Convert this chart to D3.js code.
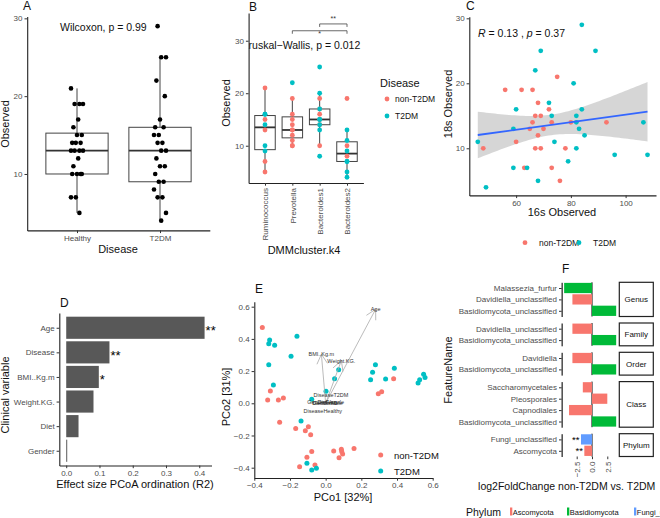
<!DOCTYPE html>
<html>
<head>
<meta charset="utf-8">
<script src="https://cdnjs.cloudflare.com/ajax/libs/d3/7.8.5/d3.min.js"></script>
<style>
body { margin: 0; background: #fff; }
svg { display: block; }
</style>
</head>
<body>
<svg id="fig" width="660" height="518"></svg>
<script>
// ---- A: observed richness by disease ----
var diseaseGroups = ["Healthy", "T2DM"];
var healthyObs = [21, 19, 19, 19, 17, 16, 15, 15, 14, 14, 14, 13, 13, 13, 13, 12, 11, 10, 10, 10, 10, 7, 7, 5];
var t2dmObs = [29, 25, 25, 22, 20, 17, 16, 16, 15, 15, 14, 14, 13, 13, 12, 11, 11, 10, 9, 9, 8, 7, 7, 5, 4];

// ---- B: observed richness by DMM cluster ----
var dmmClusters = ["Ruminococcus", "Prevotella", "Bacteroides1", "Bacteroides2"];
var dmmNonT2dm = [[21, 15, 13, 7, 5], [19, 16, 15, 14, 13, 13, 12, 11, 10, 10], [19, 17, 16, 15, 14, 10], [19, 10, 8]];
var dmmT2dm = [[16, 16, 14, 10, 9], [22], [25, 20, 17, 15, 15, 14, 13, 8], [13, 11, 9, 7, 7, 5, 4]];
var dmmTests = [["Prevotella", "Bacteroides2", "*"], ["Bacteroides1", "Bacteroides2", "**"]];

// ---- C: 16s vs 18s observed ----
var c16sNon = [75, 56, 62, 66, 68, 72, 67, 69, 66, 65, 73, 70, 68, 48, 60, 67, 69, 63, 73, 76, 80, 93, 78];
var c18sNon = [21, 19, 19, 19, 17, 16, 15, 15, 14, 13, 14, 13, 12, 10, 11, 10, 10, 7, 7, 5, 14, 14, 10];
var c16sT2 = [69, 67, 72, 60, 73, 59, 46, 74, 59, 64, 68, 49, 84, 89, 81, 84, 82, 82, 106.5, 83, 85, 82, 96, 108, 79];
var c18sT2 = [25, 22, 17, 16, 15, 13, 11, 11, 7, 7, 5, 4, 29, 25, 20, 16, 15, 14, 14, 13, 12, 10, 9, 9, 8];

// ---- D: effect sizes ----
var clinVars = ["Age", "Disease", "BMI..Kg.m", "Weight.KG.", "Diet", "Gender"];
var clinR2 = [0.416, 0.130, 0.098, 0.082, 0.037, 0.003];
var clinSig = ["**", "**", "*", "", "", ""];

// ---- E: PCoA ----
var pcoNonX = [-0.355, -0.31, -0.325, -0.265, -0.237, -0.258, -0.168, -0.114, -0.097, -0.084, -0.078, 0.045, 0.088, 0.09, 0.095, 0.075, 0.159, -0.105, -0.146, -0.06, 0.295, 0.314, 0.381];
var pcoNonY = [0.47, 0.076, 0.02, 0.02, 0.033, -0.118, -0.157, -0.17, -0.145, -0.195, -0.30, -0.296, -0.286, -0.30, -0.315, -0.338, -0.28, -0.335, -0.394, -0.383, 0.06, 0.072, 0.153];
var pcoT2X = [-0.314, -0.319, -0.286, -0.161, -0.194, -0.319, -0.293, -0.078, 0.002, 0.05, 0.073, -0.138, -0.105, -0.078, -0.052, 0.279, 0.263, 0.252, 0.336, 0.385, 0.518, 0.527, 0.549, 0.557];
var pcoT2Y = [0.393, 0.37, 0.36, 0.416, 0.292, 0.24, 0.114, 0.025, 0.075, 0.153, 0.209, -0.11, -0.373, -0.414, -0.404, 0.24, 0.193, 0.147, 0.151, 0.217, 0.126, 0.147, 0.18, 0.16];
var vecNames = ["Age", "BMI..Kg.m", "Weight.KG."];
var vecX = [0.28, -0.024, 0.088];
var vecY = [0.584, 0.305, 0.265];
var factorNames = ["DiseaseT2DM", "GenderFemale", "GenderMale", "DietMixed", "DietVeg", "DiseaseHealthy"];
var factorX = [0.03, 0.0, 0.012, -0.006, 0.008, -0.016];
var factorY = [0.05, 0.006, 0.0, 0.003, 0.008, -0.046];

// ---- F: differential abundance ----
var taxLevels = ["Genus", "Family", "Order", "Class", "Phylum"];
var featName = ["Malassezia_furfur", "Davidiella_unclassified", "Basidiomycota_unclassified",
  "Davidiella_unclassified", "Basidiomycota_unclassified",
  "Davidiella", "Basidiomycota_unclassified",
  "Saccharomycetales", "Pleosporales", "Capnodiales", "Basidiomycota_unclassified",
  "Fungi_unclassified", "Ascomycota"];
var featLevel = ["Genus", "Genus", "Genus", "Family", "Family", "Order", "Order", "Class", "Class", "Class", "Class", "Phylum", "Phylum"];
var featLfc = [-4.55, -3.2, 3.95, -3.2, 3.95, -3.2, 3.95, -1.5, 2.5, -3.75, 3.95, -1.8, -1.25];
var featPhylum = ["Basidiomycota", "Ascomycota", "Basidiomycota", "Ascomycota", "Basidiomycota", "Ascomycota", "Basidiomycota",
  "Ascomycota", "Ascomycota", "Ascomycota", "Basidiomycota", "Fungi_unclassified", "Ascomycota"];
var featSig = ["", "", "", "", "", "", "", "", "", "", "", "**", "**"];
var phylumNames = ["Ascomycota", "Basidiomycota", "Fungi_unclassified"];

// ------------------------------------------------------------------
var FONT = '"Liberation Sans", Arial, Helvetica, sans-serif';
var RED = "#F8766D", TEAL = "#00BFC4";
var svg = d3.select("#fig").attr("font-family", FONT);

function styleAxis(g) {
    g.attr("font-family", FONT).attr("font-size", 8);
    g.select(".domain").attr("stroke", "#222").attr("stroke-width", 1.1);
    g.selectAll(".tick line").attr("stroke", "#333");
    g.selectAll(".tick text").attr("fill", "#4d4d4d");
    return g;
}

function text(x, y, s, size, anchor, rot) {
    var t = svg.append("text").attr("font-size", size).attr("fill", "#111")
        .attr("text-anchor", anchor || "start").text(s);
    if (rot) t.attr("transform", "translate(" + x + "," + y + ") rotate(" + rot + ")");
    else t.attr("x", x).attr("y", y);
    return t;
}

function boxStats(v) {
    var s = v.slice().sort(d3.ascending);
    var q1 = d3.quantileSorted(s, 0.25), med = d3.quantileSorted(s, 0.5), q3 = d3.quantileSorted(s, 0.75);
    var iqr = q3 - q1;
    return {
        q1: q1, med: med, q3: q3,
        lo: d3.min(s.filter(function (d) { return d >= q1 - 1.5 * iqr; })),
        hi: d3.max(s.filter(function (d) { return d <= q3 + 1.5 * iqr; }))
    };
}

function drawBox(g, cx, w, st, y) {
    g.append("line").attr("x1", cx).attr("x2", cx).attr("y1", y(st.hi)).attr("y2", y(st.q3))
        .attr("stroke", "#444");
    g.append("line").attr("x1", cx).attr("x2", cx).attr("y1", y(st.q1)).attr("y2", y(st.lo))
        .attr("stroke", "#444");
    g.append("rect").attr("x", cx - w / 2).attr("width", w)
        .attr("y", y(st.q3)).attr("height", y(st.q1) - y(st.q3))
        .attr("fill", "none").attr("stroke", "#444").attr("stroke-width", 1);
    g.append("line").attr("x1", cx - w / 2).attr("x2", cx + w / 2)
        .attr("y1", y(st.med)).attr("y2", y(st.med))
        .attr("stroke", "#333").attr("stroke-width", 1.8);
}

// ================= A =================
(function () {
    var x = d3.scalePoint().domain(diseaseGroups).range([27.2, 209.8]).padding(0.6);
    var y = d3.scaleLinear().domain([2.75, 30.25]).range([230.4, 16.4]);
    var g = svg.append("g");
    var groups = [healthyObs, t2dmObs];
    groups.forEach(function (vals, i) {
        drawBox(g, x(diseaseGroups[i]), x.step() * 0.75, boxStats(vals), y);
    });
    groups.forEach(function (vals, i) {
        g.selectAll(null).data(vals).enter().append("circle")
            .attr("cx", function (d, j) { return x(diseaseGroups[i]) + (((j * 7 + i * 3) % 11) - 5) * 1.2; })
            .attr("cy", function (d) { return y(d); })
            .attr("r", 2.3).attr("fill", "#000");
    });
    styleAxis(svg.append("g").attr("transform", "translate(0,230.4)")
        .call(d3.axisBottom(x).tickSize(2.7).tickSizeOuter(0).tickPadding(2)));
    styleAxis(svg.append("g").attr("transform", "translate(27.2,0)")
        .call(d3.axisLeft(y).tickValues([10, 20, 30]).tickSize(2.7).tickSizeOuter(0).tickPadding(2)));
    text(60, 31, "Wilcoxon, p = 0.99", 10.5);
    text(118, 253, "Disease", 11, "middle");
    text(9, 124, "Observed", 11, "middle", -90);
    text(23, 10, "A", 12);
})();

// ================= B =================
(function () {
    var x = d3.scalePoint().domain(dmmClusters).range([248.6, 363.4]).padding(0.6);
    var y = d3.scaleLinear().domain([2.9, 35.3]).range([183, 12.9]);
    svg.append("clipPath").attr("id", "clipB").append("rect")
        .attr("x", 248.6).attr("y", 0).attr("width", 115).attr("height", 183);
    var g = svg.append("g");
    dmmClusters.forEach(function (c, i) {
        drawBox(g, x(c), x.step() * 0.75, boxStats(dmmNonT2dm[i].concat(dmmT2dm[i])), y);
    });
    dmmClusters.forEach(function (c, i) {
        [[dmmNonT2dm[i], RED], [dmmT2dm[i], TEAL]].forEach(function (p) {
            g.selectAll(null).data(p[0]).enter().append("circle")
                .attr("cx", x(c)).attr("cy", function (d) { return y(d); })
                .attr("r", 2.4).attr("fill", p[1]);
        });
    });
    // comparison brackets, stacked under the top of the panel
    var ymax = y.domain()[1];
    dmmTests.forEach(function (t, k) {
        var yy = y(ymax - 3.4 + k * 1.3), x1 = x(t[0]), x2 = x(t[1]);
        g.append("path").attr("d", "M" + x1 + "," + (yy + 3) + "V" + yy + "H" + x2 + "V" + (yy + 3))
            .attr("fill", "none").attr("stroke", "#444").attr("stroke-width", 0.8);
        g.append("text").attr("x", (x1 + x2) / 2).attr("y", k === 0 ? yy + 5.5 : yy - 3)
            .attr("text-anchor", "middle").attr("font-size", 7).attr("fill", "#333").text(t[2]);
    });
    g.append("text").attr("clip-path", "url(#clipB)").attr("x", 241.6).attr("y", 49)
        .attr("font-size", 10.5).attr("fill", "#111")
        .text("Kruskal\u2212Wallis, p = 0.012");
    styleAxis(svg.append("g").attr("transform", "translate(0,183)")
        .call(d3.axisBottom(x).tickSize(2.7).tickSizeOuter(0).tickPadding(2)))
        .selectAll(".tick text").attr("y", 0).attr("x", -5).attr("dy", "0.35em")
        .attr("transform", "rotate(-90)").attr("text-anchor", "end");
    styleAxis(svg.append("g").attr("transform", "translate(248.6,0)")
        .call(d3.axisLeft(y).tickValues([10, 20, 30]).tickSize(2.7).tickSizeOuter(0).tickPadding(2)));
    text(304, 254, "DMMcluster.k4", 11, "middle");
    text(230, 103, "Observed", 11, "middle", -90);
    text(249, 10.5, "B", 12);
    // legend
    text(380, 87, "Disease", 11);
    [["non-T2DM", RED], ["T2DM", TEAL]].forEach(function (l, i) {
        svg.append("circle").attr("cx", 387).attr("cy", 99 + i * 17).attr("r", 2.4).attr("fill", l[1]);
        text(395, 102 + i * 17, l[0], 8.5);
    });
})();

// ================= C =================
(function () {
    var x = d3.scaleLinear().domain([42.9, 111.1]).range([469.3, 656]);
    var y = d3.scaleLinear().domain([2.75, 30.25]).range([195.4, 16.7]);
    var g = svg.append("g");
    var xs = c16sNon.concat(c16sT2), ys = c18sNon.concat(c18sT2);
    var n = xs.length, mx = d3.mean(xs), my = d3.mean(ys);
    var sxx = d3.sum(xs, function (v) { return (v - mx) * (v - mx); });
    var sxy = d3.sum(xs, function (v, i) { return (v - mx) * (ys[i] - my); });
    var b = sxy / sxx, a = my - b * mx;
    var sse = d3.sum(xs, function (v, i) { var r = ys[i] - a - b * v; return r * r; });
    var s = Math.sqrt(sse / (n - 2)), tq = 2.013;
    var x0 = d3.min(xs), x1 = d3.max(xs);
    var grid = d3.range(61).map(function (i) { return x0 + (x1 - x0) * i / 60; });
    var se = function (v) { return s * Math.sqrt(1 / n + (v - mx) * (v - mx) / sxx); };
    g.append("path").datum(grid)
        .attr("d", d3.area().x(function (v) { return x(v); })
            .y0(function (v) { return y(a + b * v - tq * se(v)); })
            .y1(function (v) { return y(a + b * v + tq * se(v)); }))
        .attr("fill", "#999").attr("fill-opacity", 0.4);
    [[c16sNon, c18sNon, RED], [c16sT2, c18sT2, TEAL]].forEach(function (p) {
        g.selectAll(null).data(p[0]).enter().append("circle")
            .attr("cx", function (d) { return x(d); })
            .attr("cy", function (d, i) { return y(p[1][i]); })
            .attr("r", 2.4).attr("fill", p[2]);
    });
    g.append("line").attr("x1", x(x0)).attr("x2", x(x1))
        .attr("y1", y(a + b * x0)).attr("y2", y(a + b * x1))
        .attr("stroke", "#3366FF").attr("stroke-width", 1.8);
    styleAxis(svg.append("g").attr("transform", "translate(0,195.4)")
        .call(d3.axisBottom(x).tickValues([60, 80, 100]).tickSize(2.7).tickSizeOuter(0).tickPadding(2)));
    styleAxis(svg.append("g").attr("transform", "translate(469.3,0)")
        .call(d3.axisLeft(y).tickValues([10, 20, 30]).tickSize(2.7).tickSizeOuter(0).tickPadding(2)));
    var r = svg.append("text").attr("x", 478).attr("y", 36.5).attr("font-size", 10.5).attr("fill", "#111");
    r.append("tspan").attr("font-style", "italic").text("R");
    r.append("tspan").text(" = 0.13 , ");
    r.append("tspan").attr("font-style", "italic").text("p");
    r.append("tspan").text(" = 0.37");
    text(562, 216, "16s Observed", 11, "middle");
    text(452, 104, "18s Observed", 11, "middle", -90);
    text(466, 9.5, "C", 12);
    [["non-T2DM", RED, 525], ["T2DM", TEAL, 579]].forEach(function (l) {
        svg.append("circle").attr("cx", l[2]).attr("cy", 242.7).attr("r", 2.4).attr("fill", l[1]);
        text(l[2] + 14, 245.7, l[0], 8.5);
    });
})();

// ================= D =================
(function () {
    var x = d3.scaleLinear().domain([-0.0208, 0.4368]).range([59.3, 211.5]);
    var y = d3.scalePoint().domain(clinVars).range([313, 465.5]).padding(0.6);
    var bh = y.step() * 0.9;
    var g = svg.append("g");
    g.selectAll("rect").data(clinVars).enter().append("rect")
        .attr("x", x(0)).attr("y", function (d) { return y(d) - bh / 2; })
        .attr("width", function (d, i) { return x(clinR2[i]) - x(0); })
        .attr("height", bh).attr("fill", "#585858");
    g.selectAll("text").data(clinVars).enter().append("text")
        .attr("x", function (d, i) { return x(clinR2[i]) + 1; })
        .attr("y", function (d) { return y(d) + 7.4; })
        .attr("font-size", 13).attr("fill", "#000")
        .text(function (d, i) { return clinSig[i]; });
    styleAxis(svg.append("g").attr("transform", "translate(0,465.5)")
        .call(d3.axisBottom(x).tickValues([0, 0.1, 0.2, 0.3, 0.4]).tickFormat(d3.format(".1f"))
            .tickSize(2.7).tickSizeOuter(0).tickPadding(2)));
    styleAxis(svg.append("g").attr("transform", "translate(59.3,0)")
        .call(d3.axisLeft(y).tickSize(2.7).tickSizeOuter(0).tickPadding(2)));
    text(135, 488, "Effect size PCoA ordination (R2)", 11, "middle");
    text(9, 395, "Clinical variable", 11, "middle", -90);
    text(60, 307, "D", 12);
})();

// ================= E =================
(function () {
    var x = d3.scaleLinear().domain([-0.4, 0.6]).range([254.3, 432.7]);
    var y = d3.scaleLinear().domain([-0.464, 0.631]).range([478, 301.7]);
    var g = svg.append("g");
    [[pcoNonX, pcoNonY, RED], [pcoT2X, pcoT2Y, TEAL]].forEach(function (p) {
        g.selectAll(null).data(p[0]).enter().append("circle")
            .attr("cx", function (d) { return x(d); })
            .attr("cy", function (d, i) { return y(p[1][i]); })
            .attr("r", 2.5).attr("fill", p[2]);
    });
    vecNames.forEach(function (nm, i) {
        var x0 = x(0), y0 = y(0), x1 = x(vecX[i]), y1 = y(vecY[i]);
        var ang = Math.atan2(y0 - y1, x0 - x1), L = 11;
        var d = "M" + x0 + "," + y0 + "L" + x1 + "," + y1 +
            "M" + (x1 + L * Math.cos(ang - 0.5)) + "," + (y1 + L * Math.sin(ang - 0.5)) +
            "L" + x1 + "," + y1 +
            "L" + (x1 + L * Math.cos(ang + 0.5)) + "," + (y1 + L * Math.sin(ang + 0.5));
        g.append("path").attr("d", d).attr("fill", "none").attr("stroke", "#aaa").attr("stroke-width", 0.8);
        g.append("text").attr("x", x1).attr("y", y1 + 2).attr("text-anchor", "middle")
            .attr("font-size", 5.5).attr("fill", "#333").text(nm);
    });
    factorNames.forEach(function (nm, i) {
        g.append("text").attr("x", x(factorX[i])).attr("y", y(factorY[i]) + 2).attr("text-anchor", "middle")
            .attr("font-size", 5.5).attr("fill", "#333").text(nm);
    });
    styleAxis(svg.append("g").attr("transform", "translate(0,478)")
        .call(d3.axisBottom(x).tickValues([-0.4, -0.2, 0, 0.2, 0.4, 0.6]).tickFormat(d3.format(".1f"))
            .tickSize(2.7).tickSizeOuter(0).tickPadding(2)));
    styleAxis(svg.append("g").attr("transform", "translate(254.3,0)")
        .call(d3.axisLeft(y).tickValues([-0.4, -0.2, 0, 0.2, 0.4, 0.6]).tickFormat(d3.format(".1f"))
            .tickSize(2.7).tickSizeOuter(0).tickPadding(2)));
    text(343, 501, "PCo1 [32%]", 11, "middle");
    text(230, 397, "PCo2 [31%]", 11, "middle", -90);
    text(255, 293, "E", 12);
    [["non-T2DM", RED], ["T2DM", TEAL]].forEach(function (l, i) {
        svg.append("circle").attr("cx", 380.7).attr("cy", 455 + i * 16).attr("r", 2.5).attr("fill", l[1]);
        text(394, 458.5 + i * 16, l[0], 9.5);
    });
})();

// ================= F =================
(function () {
    var x = d3.scaleLinear().domain([-4.95, 4.2]).range([561.7, 617.7]);
    var color = d3.scaleOrdinal().domain(phylumNames).range(["#F8766D", "#00BA38", "#619CFF"]);
    var rowH = 11.4, gap = 6.5, top = 282.3;
    var rows = featName.map(function (d, i) { return i; });
    taxLevels.forEach(function (lv) {
        var idx = rows.filter(function (i) { return featLevel[i] === lv; });
        var h = idx.length * rowH;
        var y = d3.scalePoint().domain(idx).range([top, top + h]).padding(0.5);
        var g = svg.append("g");
        g.append("line").attr("x1", x(0)).attr("x2", x(0)).attr("y1", top).attr("y2", top + h)
            .attr("stroke", "#000").attr("stroke-width", 1);
        g.selectAll("rect").data(idx).enter().append("rect")
            .attr("x", function (i) { return Math.min(x(0), x(featLfc[i])); })
            .attr("width", function (i) { return Math.abs(x(featLfc[i]) - x(0)); })
            .attr("y", function (i) { return y(i) - rowH * 0.45; })
            .attr("height", rowH * 0.9)
            .attr("fill", function (i) { return color(featPhylum[i]); });
        g.selectAll("text.sig").data(idx).enter().append("text")
            .attr("x", function (i) { return x(featLfc[i]) - 1.5; })
            .attr("y", function (i) { return y(i); }).attr("dy", "0.35em")
            .attr("text-anchor", "end").attr("font-size", 9.5).attr("fill", "#000")
            .text(function (i) { return featSig[i]; });
        var ax = styleAxis(svg.append("g").attr("transform", "translate(561.7,0)")
            .call(d3.axisLeft(y).tickFormat(function (i) { return featName[i]; })
                .tickSize(2.7).tickSizeOuter(0).tickPadding(2)));
        ax.select(".domain").attr("stroke", "#555").attr("stroke-width", 1.6);
        // strip
        svg.append("rect").attr("x", 619.3).attr("y", top).attr("width", 34).attr("height", h)
            .attr("fill", "#fff").attr("stroke", "#222").attr("stroke-width", 1.2);
        text(636.3, top + h / 2 + 3, lv, 8, "middle");
        top += h + gap;
    });
    var bottom = top - gap;
    var xa = styleAxis(svg.append("g").attr("transform", "translate(0," + bottom + ")")
        .call(d3.axisBottom(x).tickValues([-2.5, 0, 2.5]).tickFormat(d3.format(".1f"))
            .tickSize(2.7).tickSizeOuter(0).tickPadding(2)));
    xa.select(".domain").remove();
    xa.selectAll(".tick text").attr("y", 0).attr("x", -5).attr("dy", "0.35em")
        .attr("transform", "rotate(-90)").attr("text-anchor", "end");
    text(566.7, 489.5, "log2FoldChange non-T2DM vs. T2DM", 10.5, "middle");
    text(452, 370, "FeatureName", 11, "middle", -90);
    text(562, 273, "F", 12);
    // legend
    text(466, 515.5, "Phylum", 10.5);
    var lx = [510, 567, 634];
    phylumNames.forEach(function (p, i) {
        svg.append("rect").attr("x", lx[i]).attr("y", 507.5).attr("width", 2.3).attr("height", 8)
            .attr("fill", color(p));
        text(lx[i] + 2.8, 514.5, p, 7.5);
    });
})();
</script>
</body>
</html>
